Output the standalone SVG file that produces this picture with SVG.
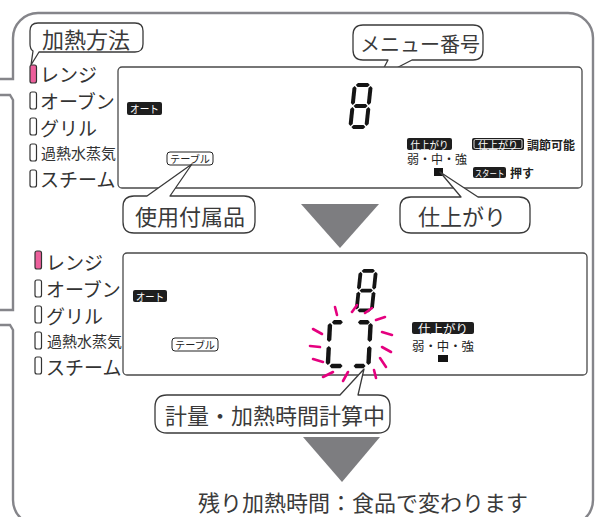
<svg xmlns="http://www.w3.org/2000/svg" width="604" height="517" viewBox="0 0 604 517">
<style>
.frame{fill:none;stroke:#85858a;stroke-width:2.4}
.lcd{fill:#fff;stroke:#4a4a4a;stroke-width:1.3}
.callout{fill:#fff;stroke:#3a3a3a;stroke-width:1.3;stroke-linejoin:round}
.ct{font-family:"Noto Sans CJK JP",sans-serif;font-size:22px;fill:#3a3a3a;dominant-baseline:central;text-anchor:middle}
.mode{font-family:"Noto Sans CJK JP",sans-serif;font-size:19px;fill:#333;dominant-baseline:central}
.mode.s{font-size:15px}
.ind{fill:#fff;stroke:#333;stroke-width:1.2}
.on{fill:#ec5f9b}
.badge{fill:#1e1e1e}
.obadge{fill:#fff;stroke:#222;stroke-width:1}
.bt{font-family:"Noto Sans CJK JP",sans-serif;fill:#fff;font-size:10.5px;dominant-baseline:central;text-anchor:middle}
.ot{font-family:"Noto Sans CJK JP",sans-serif;fill:#222;font-size:10.5px;dominant-baseline:central;text-anchor:middle}
.lt{font-family:"Noto Sans CJK JP",sans-serif;fill:#222;font-size:12px;font-weight:bold;dominant-baseline:central}
.seg{fill:#141414}
.flash{stroke:#e5007f;stroke-width:2.6;stroke-linecap:round;fill:none}
.arrow{fill:#7d7d80}
</style>
<defs>
<g id="d8" class="seg">
<polygon points="3,2 5,0 15,0 17,2 15,4 5,4"/>
<polygon points="3,23 5,21 15,21 17,23 15,25 5,25"/>
<polygon points="3,44 5,42 15,42 17,44 15,46 5,46"/>
<polygon points="2,3 4,5 4,20 2,22 0,20 0,5"/>
<polygon points="18,3 20,5 20,20 18,22 16,20 16,5"/>
<polygon points="2,24 4,26 4,41 2,43 0,41 0,26"/>
<polygon points="18,24 20,26 20,41 18,43 16,41 16,26"/>
</g>
</defs>

<g id="frame">
<path class="frame" d="M0,79 H13 V38 A25,25 0 0 1 38,13 H568 A25,25 0 0 1 593,38 V500 A25,25 0 0 1 568,525 H38 A25,25 0 0 1 13,500 V330 L10,325 H0"/>
<path class="frame" d="M0,95 H10 L13,100 V310 H0"/>
</g>

<g id="connectors">
<polygon class="arrow" points="301,204 379,204 340,248"/>
<polygon class="arrow" points="303,437 380,437 342,482"/>
</g>

<g id="callout-method">
<path class="callout" d="M38,23 H135 Q143,23 143,31 V44 Q143,52 135,52 H39 L31,65 L33,51 Q30,49 30,44 V31 Q30,23 38,23 Z"/>
<text class="ct" x="86" y="38">加熱方法</text>
</g>

<g id="callout-menu">
<path class="callout" d="M363,25 H473 Q483,25 483,35 V50 Q483,60 473,60 H412 L379,77 L388,60 H363 Q353,60 353,50 V35 Q353,25 363,25 Z"/>
<text class="ct" x="420" y="43" style="font-size:20px">メニュー番号</text>
</g>

<g id="modes-top">
<rect class="ind on" x="30" y="65" width="6.5" height="18" rx="2"/>
<rect class="ind" x="30" y="92" width="6.5" height="17" rx="2"/>
<rect class="ind" x="30" y="118" width="6.5" height="17" rx="2"/>
<rect class="ind" x="30" y="144" width="6.5" height="17" rx="2"/>
<rect class="ind" x="30" y="170" width="6.5" height="17" rx="2"/>
<text class="mode" x="40" y="73">レンジ</text>
<text class="mode" x="40" y="100">オーブン</text>
<text class="mode" x="40" y="127">グリル</text>
<text class="mode s" x="41" y="152">過熱水蒸気</text>
<text class="mode" x="40" y="178">スチーム</text>
</g>

<g id="display-top">
<rect class="lcd" x="118" y="67" width="464" height="121" rx="4"/>
<rect class="badge" x="127" y="102" width="35" height="13" rx="2"/>
<text class="bt" x="144.5" y="108.5" textLength="29" lengthAdjust="spacingAndGlyphs">オート</text>
<rect class="obadge" x="167" y="152" width="46" height="13" rx="3"/>
<text class="ot" x="190" y="158.5" textLength="40" lengthAdjust="spacingAndGlyphs">テーブル</text>
<use href="#d8" transform="translate(353,83) skewX(-6)"/>
<rect class="badge" x="407" y="138" width="45" height="12" rx="2"/>
<text class="bt" x="429.5" y="144" textLength="38" lengthAdjust="spacingAndGlyphs">仕上がり</text>
<rect class="badge" x="472" y="138" width="52" height="12" rx="2"/>
<rect x="474" y="139.5" width="48" height="9" rx="1.5" fill="none" stroke="#fff" stroke-width="0.8"/>
<text class="bt" x="498" y="144" textLength="40" lengthAdjust="spacingAndGlyphs">仕上がり</text>
<text class="lt" x="527" y="144">調節可能</text>
<text class="lt" x="407" y="158.5" style="font-weight:normal">弱・中・強</text>
<rect class="seg" x="434" y="168" width="9" height="8"/>
<rect class="badge" x="473" y="167" width="33" height="11" rx="2"/>
<text class="bt" x="627.6" y="172.5" style="font-size:9.5px" transform="scale(0.78,1)">スタート</text>
<text class="lt" x="510" y="172.5">押す</text>
</g>

<g id="callout-accessory">
<path class="callout" d="M134,196 H147 L192,164 L170,196 H244 Q255,196 255,207 V222 Q255,233 244,233 H134 Q123,233 123,222 V207 Q123,196 134,196 Z"/>
<text class="ct" x="190" y="215">使用付属品</text>
</g>

<g id="callout-finish">
<path class="callout" d="M411,197 H461 L440,172 L478,197 H519 Q530,197 530,208 V222 Q530,233 519,233 H411 Q400,233 400,222 V208 Q400,197 411,197 Z"/>
<text class="ct" x="462" y="215">仕上がり</text>
</g>

<g id="modes-bottom">
<rect class="ind on" x="35" y="251" width="6.5" height="18" rx="2"/>
<rect class="ind" x="35" y="280" width="6.5" height="17" rx="2"/>
<rect class="ind" x="35" y="306" width="6.5" height="17" rx="2"/>
<rect class="ind" x="35" y="332" width="6.5" height="17" rx="2"/>
<rect class="ind" x="35" y="357" width="6.5" height="17" rx="2"/>
<text class="mode" x="46" y="261">レンジ</text>
<text class="mode" x="46" y="288">オーブン</text>
<text class="mode" x="46" y="315">グリル</text>
<text class="mode s" x="47" y="340">過熱水蒸気</text>
<text class="mode" x="46" y="366">スチーム</text>
</g>

<g id="display-bottom">
<rect class="lcd" x="123" y="253" width="464" height="122" rx="4"/>
<rect class="badge" x="133" y="290" width="34" height="12" rx="2"/>
<text class="bt" x="150" y="296" textLength="28" lengthAdjust="spacingAndGlyphs">オート</text>
<rect class="obadge" x="172" y="338" width="46" height="13" rx="3"/>
<text class="ot" x="195" y="344.5" textLength="40" lengthAdjust="spacingAndGlyphs">テーブル</text>
<use href="#d8" transform="translate(359,269) skewX(-6) scale(0.95,0.94)"/>
<g class="seg" transform="translate(328,320) skewX(-3)">
<polygon points="4,2.2 6,0 13,0 15,2.2 13,4.4 6,4.4"/>
<polygon points="30,2.2 32,0 40,0 42,2.2 40,4.4 32,4.4"/>
<polygon points="2.2,3 4.4,5 4.4,20 2.2,22 0,20 0,5"/>
<polygon points="42.8,3 45,5 45,20 42.8,22 40.6,20 40.6,5"/>
<polygon points="2.2,26 4.4,28 4.4,43 2.2,45 0,43 0,28"/>
<polygon points="42.8,26 45,28 45,43 42.8,45 40.6,43 40.6,28"/>
<polygon points="4,46 6,43.8 15,43.8 17,46 15,48.2 6,48.2"/>
<polygon points="28,46 30,43.8 38,43.8 40,46 38,48.2 30,48.2"/>
</g>
<g class="flash">
<line x1="337" y1="315" x2="335" y2="307"/>
<line x1="352" y1="312" x2="357" y2="305"/>
<line x1="365" y1="313" x2="372" y2="308"/>
<line x1="376" y1="320" x2="385" y2="317"/>
<line x1="382" y1="332" x2="392" y2="335"/>
<line x1="382" y1="347" x2="391" y2="352"/>
<line x1="380" y1="358" x2="386" y2="367"/>
<line x1="374" y1="370" x2="376" y2="378"/>
<line x1="348" y1="372" x2="343" y2="381"/>
<line x1="333" y1="372" x2="323" y2="377"/>
<line x1="323" y1="362" x2="313" y2="359"/>
<line x1="320" y1="347" x2="310" y2="346"/>
<line x1="322" y1="334" x2="313" y2="329"/>
</g>
<rect class="badge" x="412" y="322" width="62" height="12" rx="2"/>
<text class="bt" x="443" y="328" style="font-size:12px" textLength="50" lengthAdjust="spacingAndGlyphs">仕上がり</text>
<text class="lt" x="412" y="346" style="font-weight:normal;font-size:12.4px">弱・中・強</text>
<rect class="seg" x="438" y="355" width="10" height="7"/>
</g>

<g id="callout-calc">
<path class="callout" d="M167,395 H340 L364,369 L358,395 H378 Q390,395 390,407 V421 Q390,433 378,433 H167 Q155,433 155,421 V407 Q155,395 167,395 Z"/>
<text class="ct" x="275" y="414">計量・加熱時間計算中</text>
</g>

<g id="note">
<text class="ct" x="363" y="501">残り加熱時間：食品で変わります</text>
</g>
</svg>
